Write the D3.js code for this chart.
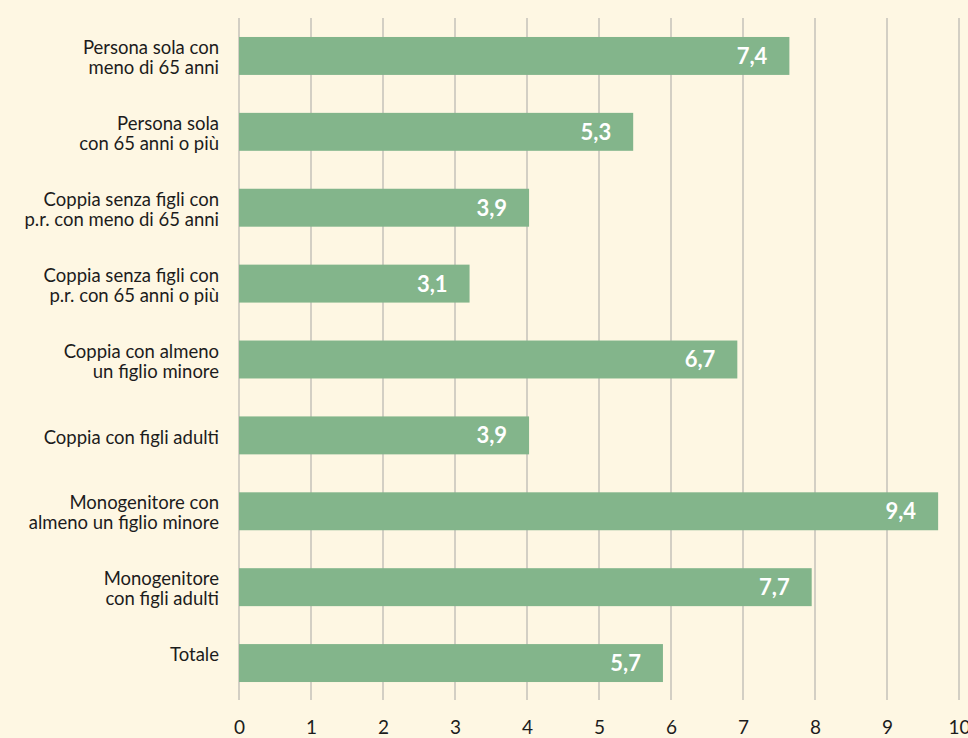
<!DOCTYPE html>
<html>
<head>
<meta charset="utf-8">
<script src="https://cdn.jsdelivr.net/npm/d3@7"></script>
<style>
  html, body { margin: 0; padding: 0; background: #fef7e3; }
  svg { display: block; font-family: Lato, "Noto Sans", sans-serif; }
</style>
</head>
<body>
<svg id="chart"></svg>
<script>
// categories (a trailing \n keeps the label on the upper line, as in the source)
const categories = [
  "Persona sola con\nmeno di 65 anni",
  "Persona sola\ncon 65 anni o più",
  "Coppia senza figli con\np.r. con meno di 65 anni",
  "Coppia senza figli con\np.r. con 65 anni o più",
  "Coppia con almeno\nun figlio minore",
  "Coppia con figli adulti",
  "Monogenitore con\nalmeno un figlio minore",
  "Monogenitore\ncon figli adulti",
  "Totale\n"
];
const values = [7.4, 5.3, 3.9, 3.1, 6.7, 3.9, 9.4, 7.7, 5.7];
const ticks = [0, 1, 2, 3, 4, 5, 6, 7, 8, 9, 10];

const width = 968, height = 738;
const plotLeft = 239, plotRight = 959, plotTop = 18, plotBottom = 701;

const svg = d3.select('#chart')
  .attr('width', width)
  .attr('height', height);

svg.append('rect')
  .attr('width', width)
  .attr('height', height)
  .attr('fill', '#fef7e3');

const x = d3.scaleLinear()
  .domain([0, 10])
  .range([plotLeft, plotRight]);

// in the source the bars run about 3% longer than the axis they sit on
const xBar = x.copy().range([plotLeft, plotLeft + (plotRight - plotLeft) * 1.033]);

const y = d3.scaleBand()
  .domain(categories)
  .range([plotTop, plotBottom])
  .paddingInner(0.5)
  .paddingOuter(0.25);

// grid lines
svg.append('g')
  .selectAll('line')
  .data(ticks)
  .enter().append('line')
  .attr('x1', d => x(d))
  .attr('x2', d => x(d))
  .attr('y1', plotTop)
  .attr('y2', plotBottom - 1)
  .attr('stroke', '#d3cfc4')
  .attr('stroke-width', 2);

// axis labels
const axis = svg.append('g')
  .attr('transform', `translate(0, ${plotBottom + 19})`)
  .call(d3.axisBottom(x).tickValues(ticks).tickSize(0).tickPadding(0));

axis.select('.domain').remove();
axis.selectAll('text')
  .attr('fill', '#1c1c1c')
  .attr('font-size', 19)
  .attr('font-family', 'Lato, sans-serif');

// bars
const rows = categories.map((c, i) => ({ cat: c, value: values[i] }));

svg.append('g')
  .selectAll('rect')
  .data(rows)
  .enter().append('rect')
  .attr('x', xBar(0))
  .attr('y', d => y(d.cat))
  .attr('width', d => xBar(d.value) - xBar(0))
  .attr('height', y.bandwidth())
  .attr('fill', '#83b58b');

// value labels
svg.append('g')
  .selectAll('text')
  .data(rows)
  .enter().append('text')
  .attr('x', d => xBar(d.value) - 22)
  .attr('y', d => y(d.cat) + y.bandwidth() / 2)
  .attr('dy', '0.36em')
  .attr('text-anchor', 'end')
  .attr('fill', '#ffffff')
  .attr('font-weight', 700)
  .attr('font-size', 22)
  .text(d => d3.format('.1f')(d.value).replace('.', ','));

// category labels
const labels = svg.append('g')
  .selectAll('text')
  .data(rows)
  .enter().append('text')
  .attr('text-anchor', 'end')
  .attr('fill', '#1c1c1c')
  .attr('font-size', 18.5);

labels.each(function(d) {
  const lines = d.cat.split('\n');
  const cy = y(d.cat) + y.bandwidth() / 2;
  const t = d3.select(this);
  if (lines.length === 1) {
    t.append('tspan').attr('x', 219).attr('y', cy + 9).text(lines[0]);
  } else {
    lines.forEach((l, i) => {
      t.append('tspan').attr('x', 219).attr('y', cy - 2 + i * 20).text(l);
    });
  }
});
</script>
</body>
</html>
